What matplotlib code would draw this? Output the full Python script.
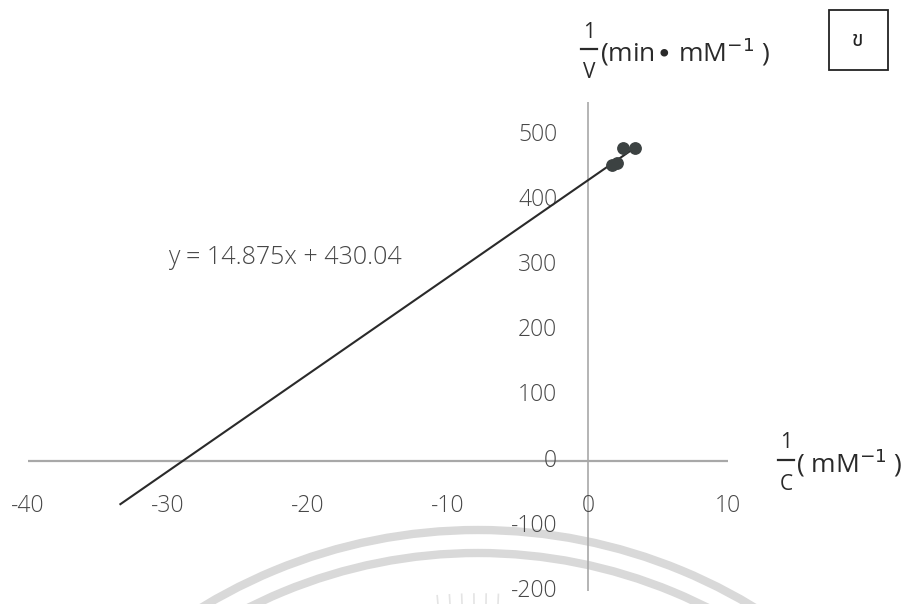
import matplotlib
matplotlib.use("Agg")
import matplotlib.pyplot as plt
from matplotlib.patches import Arc, Rectangle
import numpy as np

# Lineweaver-Burk data: 1/C (mM^-1) against 1/V (min.mM^-1)
inv_c = [1.7, 2.05, 2.5, 3.35]
inv_v = [453, 456, 480, 480]

# trendline reported on the chart
slope = 14.875
intercept = 430.04
trend_x = [-33.4, 3.35]

x_ticks = [-40, -30, -20, -10, 0, 10]
y_ticks = [-200, -100, 0, 100, 200, 300, 400, 500]

plt.rcParams['font.family'] = ['Open Sans', 'DejaVu Sans']

W, H = 913, 604
fig = plt.figure(figsize=(W / 100, H / 100), dpi=100)

# faint background emblem in figure pixel space
bg = fig.add_axes([0, 0, 1, 1], zorder=0)
bg.set_xlim(0, W)
bg.set_ylim(H, 0)
bg.axis('off')
cx, cy = 478, 1062
for r in (532, 509):
    bg.add_patch(Arc((cx, cy), 2 * r, 2 * r, theta1=0, theta2=360,
                     color='#d9d9d9', lw=6))
for ang in np.linspace(-5, 2.5, 6):
    a = np.deg2rad(ang)
    r0, r1 = 456, 468
    bg.plot([cx + r0 * np.sin(a), cx + r1 * np.sin(a)],
            [cy - r0 * np.cos(a), cy - r1 * np.cos(a)],
            color='#e4e4e4', lw=1.2)

ax = fig.add_axes([28 / W, 13 / H, 700 / W, (591 - 102) / H], zorder=1)
ax.patch.set_alpha(0)
ax.set_xlim(-40, 10)
ax.set_ylim(-200, 550)

axis_col = '#a8a8a8'
ax.axhline(0, color=axis_col, lw=1.6, zorder=1)
ax.axvline(0, color=axis_col, lw=1.2, zorder=1)
for s in ax.spines.values():
    s.set_visible(False)
ax.set_xticks([])
ax.set_yticks([])

txt_col = '#474747'
fs = 16.5
for xv in x_ticks:
    ax.text(xv, -69, str(xv), ha='center', va='center', fontsize=fs,
            color=txt_col, fontweight='light')
for yv in y_ticks:
    ax.text(-2.2, yv, str(yv), ha='right', va='center', fontsize=fs,
            color=txt_col, fontweight='light')

tx = np.array(trend_x)
ax.plot(tx, slope * tx + intercept, color='#2a2a2a', lw=1.5, zorder=3)
ax.plot(inv_c, inv_v, 'o', color='#3c4242', ms=8.2, zorder=4)

bg.text(168, 258, f"y = {slope}x + {intercept:.2f}", fontsize=18,
        color=txt_col, va='center', ha='left', fontweight='light')

# axis titles drawn as stacked fractions
lab = '#2a2a2a'
def frac(x, y, num, den, rest, x_rest):
    bg.text(x, y - 17, num, ha='center', va='center', fontsize=15, color=lab)
    bg.plot([x - 8, x + 8], [y, y], color=lab, lw=1.6)
    bg.text(x, y + 24, den, ha='center', va='center', fontsize=15, color=lab)
    bg.text(x_rest, y + 3, rest, ha='left', va='center', fontsize=19,
            color=lab)

frac(589, 49, '1', 'V', r'(min$\bullet$ mM$^{-1}$ )', 600)
frac(786, 460, '1', 'C', r'( mM$^{-1}$ )', 796)

bg.add_patch(Rectangle((829, 10), 59, 60, fill=False, ec='#222222', lw=1.3))
bg.text(858, 41, 'ข', ha='center', va='center', fontsize=15, color='#222222',
        family=['Noto Sans Thai', 'Loma', 'Garuda', 'Norasi', 'DejaVu Sans'])

fig.savefig('out.png', dpi=100)
